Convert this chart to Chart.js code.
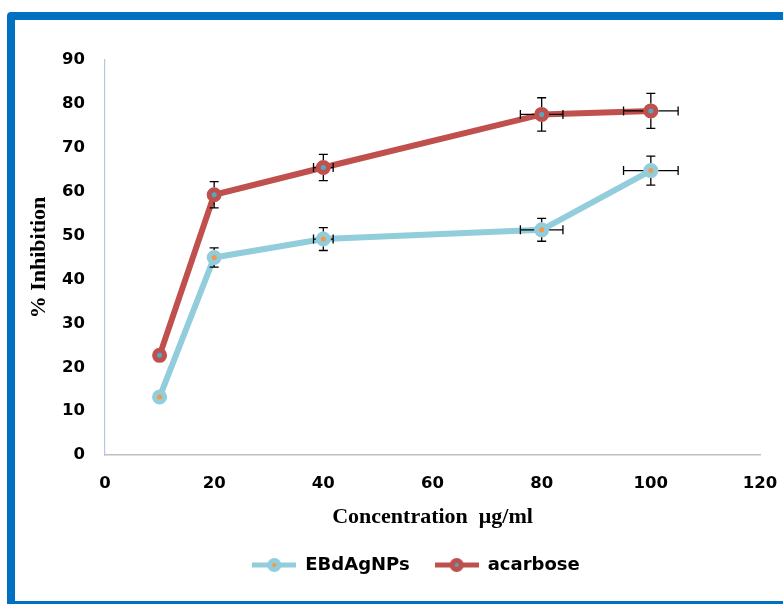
<!DOCTYPE html>
<html>
<head>
<meta charset="utf-8">
<script src="https://cdn.jsdelivr.net/npm/chart.js@4"></script>
<style>
  html, body { margin: 0; padding: 0; background: #fff; overflow: hidden; }
  #wrap { position: absolute; left: 0; top: 0; width: 783px; height: 604px; }
  #frame {
    position: absolute; left: 7px; top: 12px; width: 900px; height: 597px;
    box-sizing: border-box; border: 8px solid #0070C0; border-radius: 4px 0 0 0;
    pointer-events: none;
  }
</style>
</head>
<body>
<div id="wrap"><canvas id="chart" width="783" height="604"></canvas></div>
<div id="frame"></div>
<script>
// concentration (µg/ml)
const concentrations = [10, 20, 40, 80, 100];

// % inhibition, EBdAgNPs
const ebdagnps = [13.2, 45.0, 49.2, 51.3, 64.8];
const ebdagnpsYErr = [0.8, 2.2, 2.6, 2.6, 3.3];
const ebdagnpsXErr = [0, 0, 1.8, 3.9, 5];

// % inhibition, acarbose
const acarbose = [22.7, 59.3, 65.5, 77.6, 78.4];
const acarboseYErr = [0.8, 3.0, 3.0, 3.8, 4.0];
const acarboseXErr = [0, 0, 1.8, 3.9, 5];

const seriesNames = ['EBdAgNPs', 'acarbose'];
const lineColors = ['#92CDDC', '#C0504D'];
const dotColors = ['#F79646', '#4BACC6'];

const tickFont = { family: 'DejaVu Sans', weight: 'bold', size: 16.5 };
const titleFont = { family: 'Liberation Serif', weight: 'bold', size: 22 };

// small picture for the legend: line with the marker in the middle
function legendSymbol(i) {
  const c = document.createElement('canvas');
  c.width = 44; c.height = 18;
  const g = c.getContext('2d');
  g.strokeStyle = lineColors[i];
  g.lineWidth = 5;
  g.beginPath(); g.moveTo(0, 9); g.lineTo(44, 9); g.stroke();
  g.beginPath(); g.arc(22, 9, 4.5, 0, Math.PI * 2);
  g.fillStyle = dotColors[i]; g.fill();
  g.lineWidth = 5; g.stroke();
  return c;
}

const errBars = [
  { x: ebdagnpsXErr, y: ebdagnpsYErr },
  { x: acarboseXErr, y: acarboseYErr }
];

// error bars, drawn over the lines but not across the markers
const errorBarPlugin = {
  id: 'errorBars',
  afterDatasetsDraw(chart) {
    const ctx = chart.ctx;
    const xs = chart.scales.x, ys = chart.scales.y;
    const gap = 7.5, cap = 4.5;
    ctx.save();
    ctx.strokeStyle = '#000';
    ctx.lineWidth = 1.3;
    chart.data.datasets.forEach((ds, di) => {
      ds.data.forEach((p, i) => {
        const px = xs.getPixelForValue(p.x);
        const py = ys.getPixelForValue(p.y);
        const ey = errBars[di].y[i], ex = errBars[di].x[i];
        ctx.beginPath();
        if (ey) {
          const top = ys.getPixelForValue(p.y + ey);
          const bot = ys.getPixelForValue(p.y - ey);
          if (py - top > gap) {
            ctx.moveTo(px, py - gap); ctx.lineTo(px, top);
            ctx.moveTo(px - cap, top); ctx.lineTo(px + cap, top);
          }
          if (bot - py > gap) {
            ctx.moveTo(px, py + gap); ctx.lineTo(px, bot);
            ctx.moveTo(px - cap, bot); ctx.lineTo(px + cap, bot);
          }
        }
        if (ex) {
          const lft = xs.getPixelForValue(p.x - ex);
          const rgt = xs.getPixelForValue(p.x + ex);
          if (px - lft > gap) {
            ctx.moveTo(px - gap, py); ctx.lineTo(lft, py);
            ctx.moveTo(lft, py - cap); ctx.lineTo(lft, py + cap);
          }
          if (rgt - px > gap) {
            ctx.moveTo(px + gap, py); ctx.lineTo(rgt, py);
            ctx.moveTo(rgt, py - cap); ctx.lineTo(rgt, py + cap);
          }
        }
        ctx.stroke();
      });
    });
    ctx.restore();
  }
};

// the legend sits a little right of the page centre
const legendShift = {
  id: 'legendShift',
  beforeDraw(chart) {
    const lg = chart.legend;
    if (lg && !lg._shifted) {
      lg.left += 72;
      lg.right += 0;
      lg._shifted = true;
    }
  }
};

function makeDataset(i, values) {
  return {
    label: seriesNames[i],
    data: concentrations.map((c, k) => ({ x: c, y: values[k] })),
    borderColor: lineColors[i],
    backgroundColor: lineColors[i],
    borderWidth: 6,
    pointRadius: 5,
    pointBorderWidth: 5,
    pointBorderColor: lineColors[i],
    pointBackgroundColor: dotColors[i],
    pointHoverRadius: 5,
    tension: 0,
    fill: false
  };
}

new Chart(document.getElementById('chart'), {
  type: 'line',
  data: {
    datasets: [makeDataset(0, ebdagnps), makeDataset(1, acarbose)]
  },
  plugins: [errorBarPlugin, legendShift],
  options: {
    responsive: false,
    animation: false,
    events: [],
    layout: { padding: { left: 0, right: 23, top: 60, bottom: 20 } },
    plugins: {
      tooltip: { enabled: false },
      legend: {
        position: 'bottom',
        labels: {
          usePointStyle: true,
          pointStyleWidth: 44,
          padding: 25,
          color: '#000',
          font: { family: 'DejaVu Sans', weight: 'bold', size: 18 },
          generateLabels: () => seriesNames.map((n, i) => ({
            text: n,
            pointStyle: legendSymbol(i),
            fillStyle: lineColors[i],
            strokeStyle: lineColors[i],
            lineWidth: 0,
            datasetIndex: i,
            fontColor: '#000'
          }))
        }
      }
    },
    scales: {
      x: {
        type: 'linear',
        min: 0, max: 120,
        grid: { display: false },
        border: { display: true, color: '#BFBFBF', width: 1.5 },
        ticks: { stepSize: 20, color: '#000', font: tickFont, padding: 11, maxRotation: 0 },
        title: {
          display: true, text: 'Concentration  μg/ml', color: '#000', font: titleFont,
          padding: { top: 0, bottom: 0 }
        },
        afterFit: (s) => { s.height = 76; s.paddingLeft = 0; s.paddingRight = 0; }
      },
      y: {
        min: 0, max: 90,
        grid: { display: false },
        border: { display: true, color: '#B4C7E7', width: 1.2 },
        ticks: { stepSize: 10, color: '#000', font: tickFont, padding: 12 },
        title: {
          display: true, text: '% Inhibition', color: '#000', font: titleFont,
          padding: { top: 26, bottom: 0 }
        },
        afterFit: (s) => { s.width = 105; s.paddingTop = 0; s.paddingBottom = 0; }
      }
    }
  }
});
</script>
</body>
</html>
